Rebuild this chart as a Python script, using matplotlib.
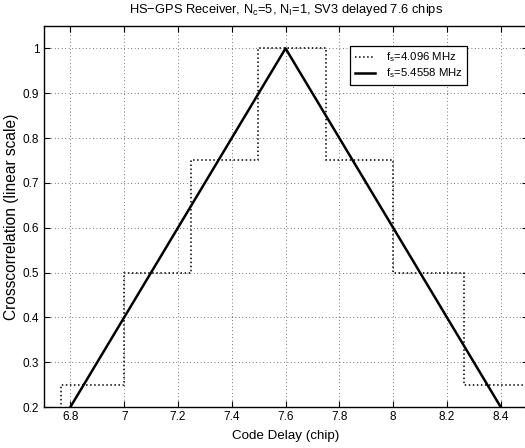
import matplotlib
matplotlib.use("Agg")
import matplotlib.pyplot as plt
import numpy as np

# sampled correlation at fs=4.096 MHz (staircase)
step_edges = [6.765, 7.0, 7.248, 7.498, 7.75, 8.0, 8.265, 8.52]
step_values = [0.25, 0.5, 0.75, 1.0, 0.75, 0.5, 0.25]

# correlation at fs=5.4558 MHz
tri_delay = [6.6, 7.6, 8.6]
tri_corr = [0.0, 1.0, 0.0]

plt.rcParams["font.family"] = ["Liberation Sans", "DejaVu Sans"]
plt.rcParams["font.size"] = 8.5
plt.rcParams["mathtext.fontset"] = "custom"
plt.rcParams["mathtext.rm"] = "Liberation Sans"
plt.rcParams["mathtext.it"] = "Liberation Sans"

fig = plt.figure(figsize=(5.25, 4.48), dpi=100)
ax = fig.add_axes([43.5/525, 41/448, (527.6-43.5)/525, 381/448])

ax.stairs(step_values, step_edges, baseline=0, color="k", linestyle=":",
          linewidth=1.1, label=r"f$_{\rm s}$=4.096 MHz")
ax.plot(tri_delay, tri_corr, color="k", linewidth=1.8,
        label=r"f$_{\rm s}$=5.4558 MHz")

ax.set_xlim(6.7, 8.5)
ax.set_ylim(0.2, 1.05)
ax.set_xticks(np.arange(6.8, 8.41, 0.2))
ax.set_xticklabels(["6.8", "7", "7.2", "7.4", "7.6", "7.8", "8", "8.2", "8.4"])
ax.set_yticks(np.arange(0.2, 1.01, 0.1))
ax.set_yticklabels(["0.2", "0.3", "0.4", "0.5", "0.6", "0.7", "0.8", "0.9", "1"])
ax.tick_params(direction="in", top=True, right=True, length=4, width=0.8,
               pad=3, labelsize=8.5)
ax.grid(True, color="k", linestyle=(0, (1, 4)), linewidth=0.5)
for s in ax.spines.values():
    s.set_linewidth(1.0)

ax.set_xlabel("Code Delay (chip)", fontsize=9.6, labelpad=5)
ax.set_ylabel("Crosscorrelation (linear scale)", fontsize=11.2, labelpad=3)
ax.set_title(r"HS$-$GPS Receiver, N$_{\rm c}$=5, N$_{\rm I}$=1, SV3 delayed 7.6 chips",
             fontsize=9.3, pad=9)

leg = ax.legend(loc="upper right", bbox_to_anchor=(0.875, 0.9475), borderaxespad=0,
                fancybox=False, edgecolor="k", framealpha=1, handlelength=1.8,
                handletextpad=0.9, labelspacing=0.2, borderpad=0.4, fontsize=8.2)
leg.get_frame().set_linewidth(0.9)

fig.savefig("out.png", dpi=100)
